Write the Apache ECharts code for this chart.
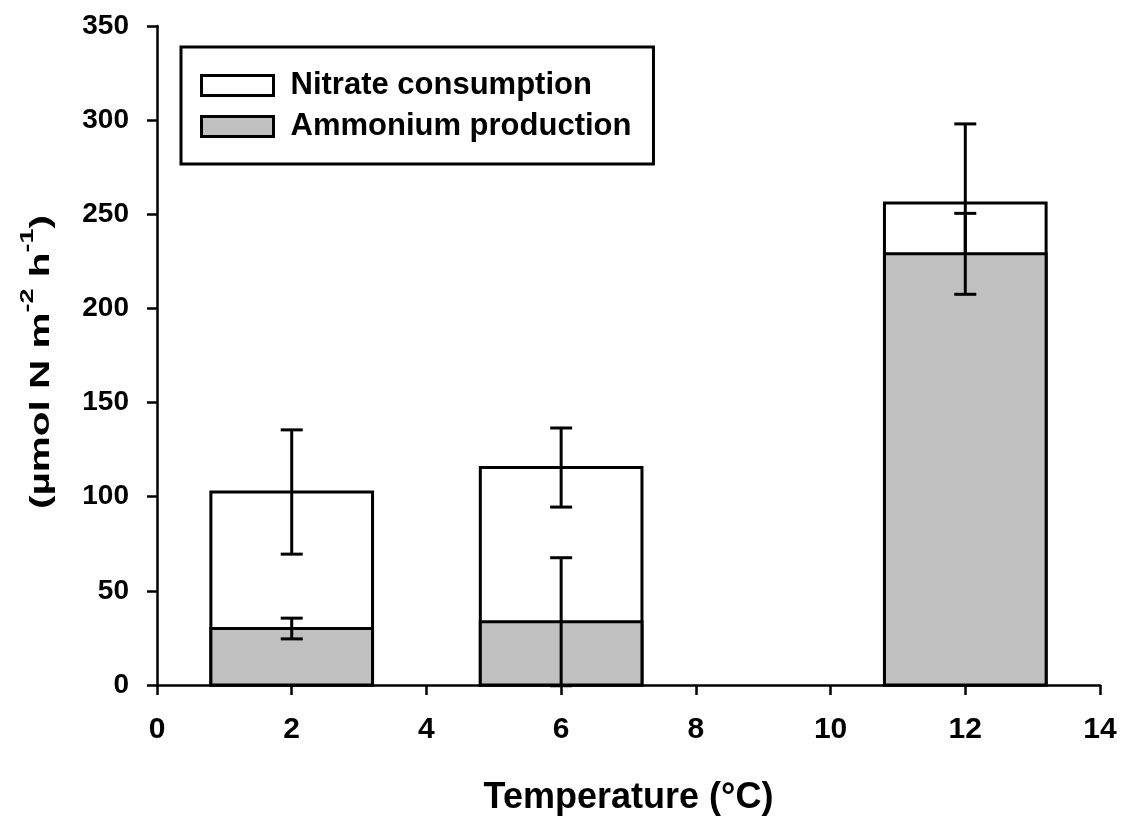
<!DOCTYPE html>
<html>
<head>
<meta charset="utf-8">
<script src="https://cdn.jsdelivr.net/npm/echarts@6/dist/echarts.min.js"></script>
<style>html,body{margin:0;padding:0;background:#fff;}#chart{width:1122px;height:819px;}</style>
</head>
<body>
<div id="chart"></div>
<script>
// Data
var temperature = [2, 6, 12];
var nitrateConsumption = [102.5, 115.5, 256];
var nitrateError = [33, 21, 42];
var ammoniumProduction = [30, 33.6, 229];
var ammoniumError = [5.5, 34, 21.5];
var xTicks = [0, 2, 4, 6, 8, 10, 12, 14];
var yTicks = [0, 50, 100, 150, 200, 250, 300, 350];
var xTitle = 'Temperature (°C)';
var yTitle = '{n|(µmol N m}{sup|-2}{n| h}{sup|-1}{n|)}';

var FONT = '"Liberation Sans", Arial, sans-serif';
var BAR_HALF = 1.2;   // half bar width in x units
var CAP_HALF = 11;    // px

function barRenderer(fill) {
  return function (params, api) {
    var x = api.value(0), v = api.value(1);
    var p0 = api.coord([x - BAR_HALF, v]);
    var p1 = api.coord([x + BAR_HALF, 0]);
    return {
      type: 'rect',
      shape: { x: p0[0], y: p0[1], width: p1[0] - p0[0], height: p1[1] - p0[1] },
      style: { fill: fill, stroke: '#000', lineWidth: 3 }
    };
  };
}
function errRenderer(params, api) {
  var x = api.value(0), v = api.value(1), e = api.value(2);
  var top = api.coord([x, v + e]);
  var bot = api.coord([x, v - e]);
  var st = { stroke: '#000', lineWidth: 3, fill: null };
  return {
    type: 'group',
    children: [
      { type: 'line', shape: { x1: top[0], y1: top[1], x2: bot[0], y2: bot[1] }, style: st },
      { type: 'line', shape: { x1: top[0] - CAP_HALF, y1: top[1], x2: top[0] + CAP_HALF, y2: top[1] }, style: st },
      { type: 'line', shape: { x1: bot[0] - CAP_HALF, y1: bot[1], x2: bot[0] + CAP_HALF, y2: bot[1] }, style: st }
    ]
  };
}

var nitrateData = temperature.map(function (t, i) { return [t, nitrateConsumption[i]]; });
var ammoniumData = temperature.map(function (t, i) { return [t, ammoniumProduction[i]]; });
var nitrateErrData = temperature.map(function (t, i) { return [t, nitrateConsumption[i], nitrateError[i]]; });
var ammoniumErrData = temperature.map(function (t, i) { return [t, ammoniumProduction[i], ammoniumError[i]]; });

var chart = echarts.init(document.getElementById('chart'), null, { renderer: 'canvas' });
chart.setOption({
  animation: false,
  backgroundColor: '#fff',
  textStyle: { fontFamily: FONT },
  grid: { left: 157, right: 22, top: 26, bottom: 134, containLabel: false, outerBoundsMode: 'none' },
  legend: {
    left: 181, top: 47,
    orient: 'vertical',
    padding: [23, 22, 22, 19],
    itemWidth: 72, itemHeight: 20, itemGap: 10,
    borderColor: '#000', borderWidth: 3,
    backgroundColor: '#fff',
    textStyle: { fontFamily: FONT, fontWeight: 'bold', fontSize: 31, color: '#000', padding: [0, 0, 0, 12] },
    data: [
      { name: 'Nitrate consumption', icon: 'rect', itemStyle: { color: '#fff', borderColor: '#000', borderWidth: 3 } },
      { name: 'Ammonium production', icon: 'rect', itemStyle: { color: '#c0c0c0', borderColor: '#000', borderWidth: 3 } }
    ]
  },
  graphic: [{
    type: 'text', x: 42, y: 362, rotation: Math.PI / 2, scaleX: 1.5, scaleY: 1,
    style: {
      text: yTitle, fontFamily: FONT, fontWeight: 'bold', fontSize: 27, fill: '#000',
      align: 'center', verticalAlign: 'middle',
      rich: {
        n: { fontFamily: FONT, fontWeight: 'bold', fontSize: 27, fill: '#000', verticalAlign: 'middle' },
        sup: { fontFamily: FONT, fontWeight: 'bold', fontSize: 18, fill: '#000', lineHeight: 18, verticalAlign: 'bottom', padding: [0, 0, 18, 0] }
      }
    }
  }],
  xAxis: {
    type: 'value', min: 0, max: 14, interval: 2,
    name: xTitle, nameLocation: 'middle', nameGap: 95,
    nameTextStyle: { fontFamily: FONT, fontWeight: 'bold', fontSize: 36, color: '#000' },
    axisLine: { show: true, onZero: false, lineStyle: { color: '#000', width: 2.5 } },
    axisTick: { show: true, length: 10, lineStyle: { color: '#000', width: 2.5 } },
    axisLabel: { fontFamily: FONT, fontWeight: 'bold', fontSize: 30, color: '#000', margin: 30,
      formatter: function (v) { return xTicks.indexOf(v) >= 0 ? String(v) : ''; } },
    splitLine: { show: false }
  },
  yAxis: {
    type: 'value', min: 0, max: 350, interval: 50,
    axisLine: { show: true, lineStyle: { color: '#000', width: 2.5 } },
    axisTick: { show: true, length: 10, lineStyle: { color: '#000', width: 2.5 } },
    axisLabel: { fontFamily: FONT, fontWeight: 'bold', fontSize: 28, color: '#000', margin: 28,
      formatter: function (v) { return yTicks.indexOf(v) >= 0 ? String(v) : ''; } },
    splitLine: { show: false }
  },
  series: [
    { name: 'Nitrate consumption', type: 'custom', z: 2, renderItem: barRenderer('#ffffff'), data: nitrateData,
      itemStyle: { color: '#fff', borderColor: '#000', borderWidth: 3 } },
    { name: 'nitrateErr', type: 'custom', z: 3, renderItem: errRenderer, data: nitrateErrData },
    { name: 'Ammonium production', type: 'custom', z: 4, renderItem: barRenderer('#c0c0c0'), data: ammoniumData,
      itemStyle: { color: '#c0c0c0', borderColor: '#000', borderWidth: 3 } },
    { name: 'ammoniumErr', type: 'custom', z: 5, renderItem: errRenderer, data: ammoniumErrData }
  ]
});
</script>
</body>
</html>
